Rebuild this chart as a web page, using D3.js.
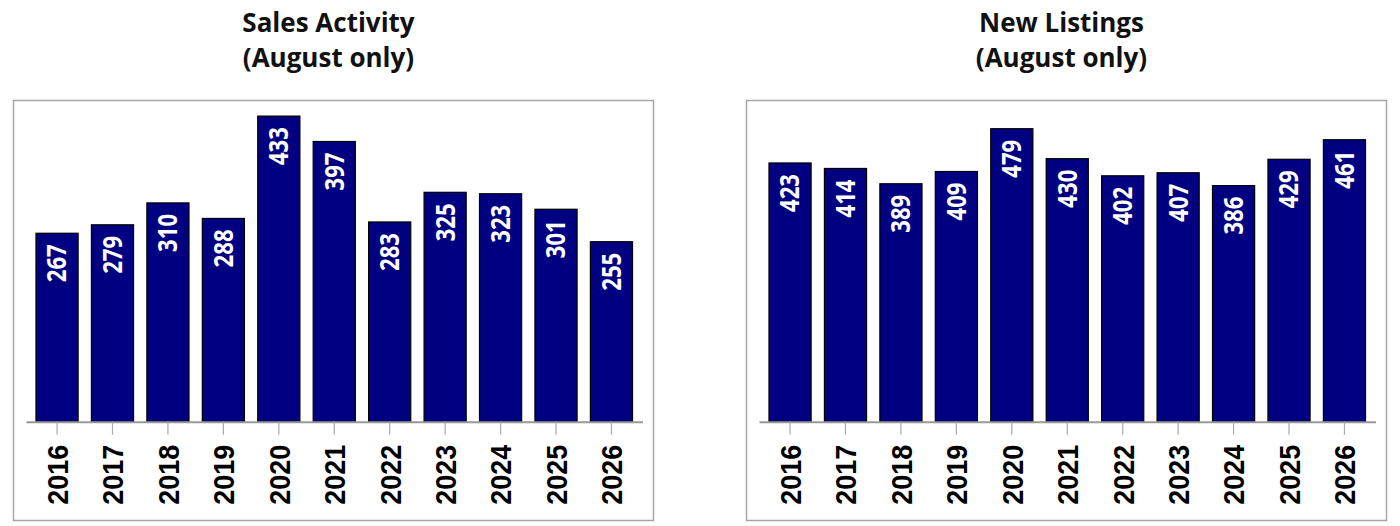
<!DOCTYPE html>
<html>
<head>
<meta charset="utf-8">
<script src="https://d3js.org/d3.v7.min.js"></script>
<style>
  body { margin: 0; background: #fff; }
  svg { display: block; }
</style>
</head>
<body>
<div id="chart"></div>
<script>
// data
var years = ["2016", "2017", "2018", "2019", "2020", "2021", "2022", "2023", "2024", "2025", "2026"];
var salesActivity = [267, 279, 310, 288, 433, 397, 283, 325, 323, 301, 255];
var newListings = [423, 414, 389, 409, 479, 430, 402, 407, 386, 429, 461];
var titles = ["Sales Activity", "New Listings"];
var subtitle = "(August only)";
var yMax = [520, 600];

var W = 1400, H = 526;
var svg = d3.select("#chart").append("svg")
  .attr("width", W)
  .attr("height", H);

var panels = [
  { x: 13.5, values: salesActivity, title: titles[0], max: yMax[0] },
  { x: 746.5, values: newListings, title: titles[1], max: yMax[1] }
];

var frameW = 640, frameTop = 100.5, frameBottom = 520.5;
var baseY = 421.7, plotH = 367;

panels.forEach(function (p) {
  var g = svg.append("g").attr("transform", "translate(" + p.x + ",0)");

  // frame
  g.append("rect")
    .attr("x", 0)
    .attr("y", frameTop)
    .attr("width", frameW)
    .attr("height", frameBottom - frameTop)
    .attr("fill", "none")
    .attr("stroke", "#a6a6a6")
    .attr("stroke-width", 1.5);

  // title
  var t = g.append("text")
    .attr("text-anchor", "middle")
    .style("font-family", "'Open Sans', sans-serif")
    .style("font-weight", 700)
    .style("font-size", "26px")
    .attr("fill", "#111");
  t.append("tspan").attr("x", frameW / 2 - 5).attr("y", 32).text(p.title);
  t.append("tspan").attr("x", frameW / 2 - 5).attr("y", 67).text(subtitle);

  var x = d3.scaleBand()
    .domain(years)
    .range([12.5, 629])
    .paddingInner(0.24)
    .paddingOuter(0.18);

  var y = d3.scaleLinear()
    .domain([0, p.max])
    .range([baseY, baseY - plotH]);

  // bars
  g.selectAll(".bar")
    .data(p.values)
    .enter()
    .append("rect")
    .attr("class", "bar")
    .attr("x", function (d, i) { return x(years[i]); })
    .attr("y", function (d) { return y(d); })
    .attr("width", x.bandwidth())
    .attr("height", function (d) { return y(0) - y(d); })
    .attr("fill", "#000080")
    .attr("stroke", "#000")
    .attr("stroke-width", 1.2);

  // value labels inside bars
  g.selectAll(".val")
    .data(p.values)
    .enter()
    .append("text")
    .attr("class", "val")
    .attr("transform", function (d, i) {
      return "translate(" + (x(years[i]) + x.bandwidth() / 2) + "," + (y(d) + 11) + ") rotate(-90)";
    })
    .attr("text-anchor", "end")
    .attr("dy", "0.36em")
    .attr("textLength", 38)
    .attr("lengthAdjust", "spacingAndGlyphs")
    .style("font-family", "'Open Sans', sans-serif")
    .style("font-weight", 700)
    .style("font-size", "26px")
    .attr("fill", "#fff")
    .text(function (d) { return d; });

  // x axis
  var axis = g.append("g")
    .attr("transform", "translate(0," + baseY + ")")
    .call(d3.axisBottom(x).tickSize(13).tickSizeOuter(0));
  axis.select(".domain").attr("stroke", "#999").attr("stroke-width", 2);
  axis.selectAll(".tick line").attr("stroke", "#aaa").attr("stroke-width", 1.2);
  axis.selectAll(".tick text")
    .attr("transform", "rotate(-90)")
    .attr("x", -23)
    .attr("y", 0)
    .attr("dy", "0.36em")
    .attr("text-anchor", "end")
    .attr("textLength", 60)
    .attr("lengthAdjust", "spacingAndGlyphs")
    .style("font-family", "'Liberation Sans', Arial, sans-serif")
    .style("font-weight", 700)
    .style("font-size", "30px")
    .attr("fill", "#000");
});
</script>
</body>
</html>
